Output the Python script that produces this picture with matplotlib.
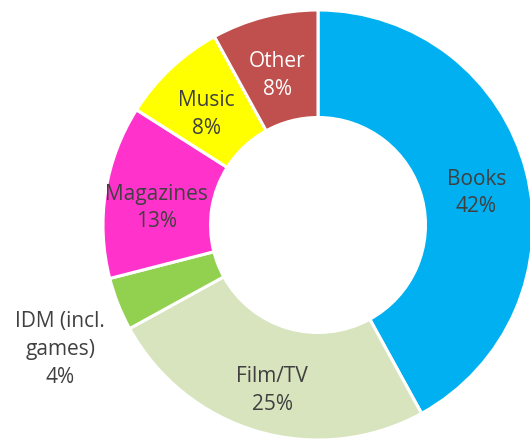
import numpy as np
import matplotlib
matplotlib.use("Agg")
import matplotlib.pyplot as plt

# ------------------------------------------------------------------
# data (read off the reference donut, clockwise from 12 o'clock)
# ------------------------------------------------------------------
categories = ["Books", "Film/TV", "IDM (incl.\ngames)", "Magazines", "Music", "Other"]
shares = [42, 25, 4, 13, 8, 8]
colors = ["#00B0F0", "#D7E4BD", "#92D050", "#FF33CC", "#FFFF00", "#C0504D"]
text_colors = ["#404040", "#404040", "#404040", "#404040", "#404040", "#FFFFFF"]
outside = [False, False, True, False, False, False]

plt.rcParams["font.family"] = ["Open Sans", "DejaVu Sans"]

W, H = 530, 443
CX, CY, R = 318, 225, 215  # centre / outer radius in pixels

fig = plt.figure(figsize=(W / 100, H / 100), dpi=100)
ax = fig.add_axes([0, 0, 1, 1])

wedges, _ = ax.pie(shares, colors=colors, startangle=90, counterclock=False,
                   radius=1.0,
                   wedgeprops=dict(width=0.5, edgecolor="white", linewidth=2.2))

for w, cat, val, tc, out in zip(wedges, categories, shares, text_colors, outside):
    mid = np.deg2rad((w.theta1 + w.theta2) / 2)
    dist = 1.29 if out else 0.76
    x, y = dist * np.cos(mid), dist * np.sin(mid) - 0.04
    if out:
        y -= 0.065  # small slice: label sits outside, a bit lower
    ax.text(x, y, f"{cat}\n{val}%",
            ha="center", va="center", fontsize=15, color=tc, linespacing=1.42)

ax.set_aspect("auto")
ax.set_xlim(-CX / R, (W - CX) / R)
ax.set_ylim(-(H - CY) / R, CY / R)
ax.axis("off")

fig.savefig("out.png", dpi=100)
